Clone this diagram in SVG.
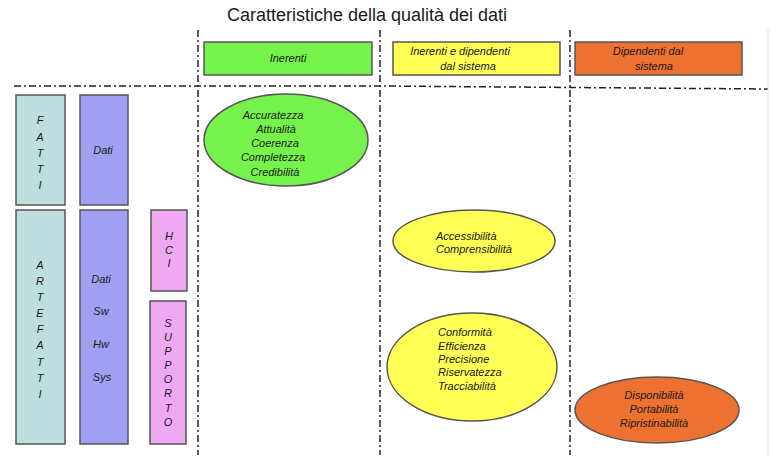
<svg xmlns="http://www.w3.org/2000/svg" width="782" height="469" viewBox="0 0 782 469">
<style>
text{font-family:"Liberation Sans",Arial,sans-serif;font-style:italic;font-size:11px;fill:#1a1a1a}
.t{text-anchor:middle}
.b{stroke:#555;stroke-width:1.5}
.d{stroke:#222;stroke-width:1.5;stroke-dasharray:7 3 2 3;fill:none}
</style>
<rect width="782" height="469" fill="#fff"/>
<text x="367" y="21" class="t" style="font-style:normal;font-size:18px">Caratteristiche della qualità dei dati</text>
<g id="connectors">
<path class="d" d="M14 86 L380 86 L768 89"/>
<path class="d" d="M198 30 V455 M380 30 V455 M570 30 V455"/>
<path d="M768 30 V455" stroke="#ddd" stroke-width="1"/>
</g>
<g id="h1"><rect class="b" x="204" y="42" width="168" height="33" fill="#76f24c"/><text x="288" y="62" class="t">Inerenti</text></g>
<g id="h2"><rect class="b" x="393" y="42" width="167" height="33" fill="#ffff55"/><text x="460" y="55" class="t">Inerenti e dipendenti</text><text x="468" y="70" class="t">dal sistema</text></g>
<g id="h3"><rect class="b" x="575" y="42" width="167" height="33" fill="#ed7131"/><text x="648" y="55" class="t">Dipendenti dal</text><text x="654" y="70" class="t">sistema</text></g>
<g id="fatti"><rect class="b" x="16" y="95" width="49" height="110" fill="#bfdfdf"/>
<text class="t" x="40" y="124">F</text><text class="t" x="40" y="141">A</text><text class="t" x="40" y="157">T</text><text class="t" x="40" y="173">T</text><text class="t" x="40" y="189">I</text></g>
<g id="dati"><rect class="b" x="80" y="95" width="48" height="110" fill="#9fa0f2"/><text class="t" x="103" y="154">Dati</text></g>
<g id="artefatti"><rect class="b" x="16" y="210" width="49" height="234" fill="#bfdfdf"/>
<text class="t" x="40" y="269">A</text><text class="t" x="40" y="285">R</text><text class="t" x="40" y="301">T</text><text class="t" x="40" y="317">E</text><text class="t" x="40" y="333">F</text><text class="t" x="40" y="349">A</text><text class="t" x="40" y="366">T</text><text class="t" x="40" y="382">T</text><text class="t" x="40" y="398">I</text></g>
<g id="dati2"><rect class="b" x="80" y="210" width="48" height="234" fill="#9fa0f2"/>
<text class="t" x="101" y="283">Dati</text><text class="t" x="101" y="315">Sw</text><text class="t" x="101" y="348">Hw</text><text class="t" x="102" y="381">Sys</text></g>
<g id="hci"><rect class="b" x="151" y="210" width="36" height="81" fill="#efa8f2"/>
<text class="t" x="169" y="240">H</text><text class="t" x="169" y="254">C</text><text class="t" x="169" y="267">I</text></g>
<g id="supporto"><rect class="b" x="150" y="301" width="36" height="143" fill="#efa8f2"/>
<text class="t" x="168" y="327">S</text><text class="t" x="168" y="341">U</text><text class="t" x="168" y="355">P</text><text class="t" x="168" y="369">P</text><text class="t" x="168" y="383">O</text><text class="t" x="168" y="397">R</text><text class="t" x="168" y="412">T</text><text class="t" x="168" y="426">O</text></g>
<g id="e1"><ellipse class="b" cx="286" cy="140" rx="82" ry="46" fill="#76f24c"/>
<text class="t" x="273" y="119">Accuratezza</text><text class="t" x="276" y="133">Attualità</text><text class="t" x="275" y="147">Coerenza</text><text class="t" x="273" y="161">Completezza</text><text class="t" x="275" y="176">Credibilità</text></g>
<g id="e2"><ellipse class="b" cx="474" cy="241" rx="81" ry="31" fill="#ffff55"/>
<text x="436" y="240">Accessibilità</text><text x="436" y="253">Comprensibilità</text></g>
<g id="e3"><ellipse class="b" cx="472" cy="367" rx="85" ry="54" fill="#ffff55"/>
<text x="438" y="336">Conformità</text><text x="438" y="350">Efficienza</text><text x="438" y="363">Precisione</text><text x="438" y="376">Riservatezza</text><text x="438" y="390">Tracciabilità</text></g>
<g id="e4"><ellipse class="b" cx="657" cy="410" rx="82" ry="33" fill="#ed7131"/>
<text class="t" x="654" y="399">Disponibilità</text><text class="t" x="654" y="413">Portabilità</text><text class="t" x="654" y="427">Ripristinabilità</text></g>
</svg>
